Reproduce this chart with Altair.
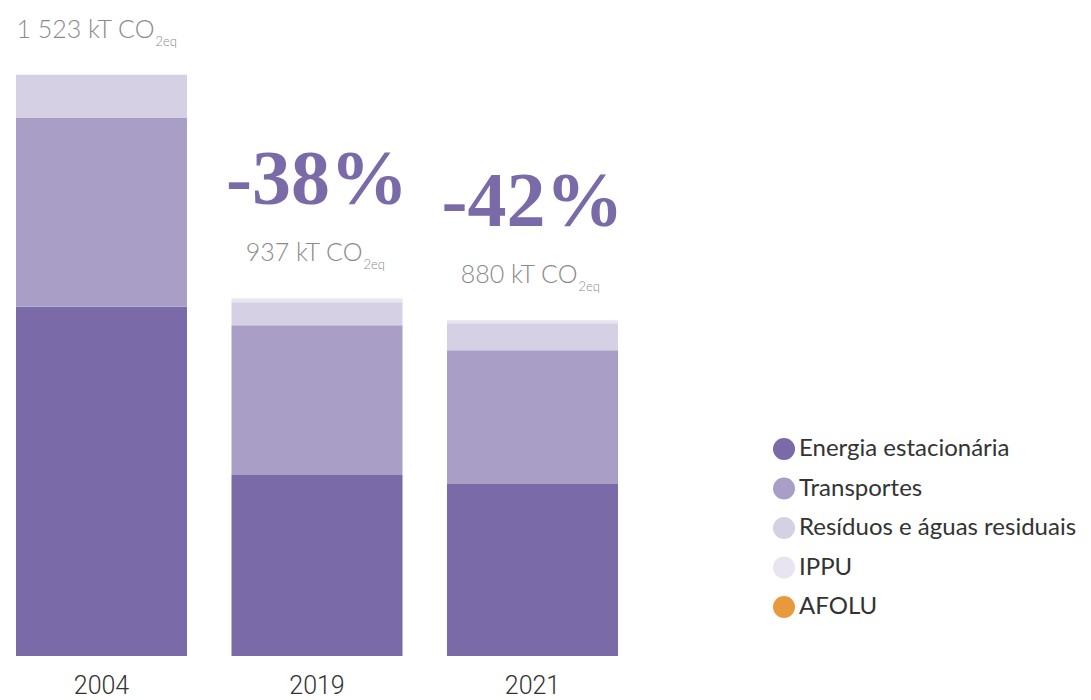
import altair as alt
import pandas as pd

years = ["2004", "2019", "2021"]
categories = ["Energia estacionária", "Transportes", "Resíduos e águas residuais", "IPPU", "AFOLU"]
colors = ["#7a6aa8", "#a99ec6", "#d5d0e4", "#e8e5f0", "#e8993b"]

energia = [915, 474, 451]
transportes = [495, 393, 350]
residuos = [113, 60, 71]
ippu = [0, 10, 8]
afolu = [0, 0, 0]

totals = [1523, 937, 880]
total_labels = ["1 523 kT CO", "937 kT CO", "880 kT CO"]
sub_label = "2eq"
reductions = ["", "-38%", "-42%"]

series = [energia, transportes, residuos, ippu, afolu]
rows = []
for ci, (cat, vals) in enumerate(zip(categories, series)):
    for yi, yr in enumerate(years):
        rows.append({"year": yr, "cat": cat, "idx": ci, "value": vals[yi]})
df = pd.DataFrame(rows)

tot_df = pd.DataFrame({"year": years, "total": totals, "label": total_labels,
                       "sub": [sub_label] * 3, "red": reductions})

xscale = alt.Scale(domain=years, paddingInner=0.2065, paddingOuter=0)
yscale = alt.Scale(domain=[0, 1698], nice=False, zero=True)

bars = alt.Chart(df).mark_bar().encode(
    x=alt.X("year:N", scale=xscale, sort=years,
            axis=alt.Axis(title=None, labelAngle=0, domain=False, ticks=False,
                          labelFontSize=25, labelColor="#333333",
                          labelFont="Liberation Sans Narrow, Roboto",
                          labelFontWeight=300,
                          labelPadding=17)),
    y=alt.Y("value:Q", scale=yscale, axis=None, stack="zero"),
    color=alt.Color("cat:N", scale=alt.Scale(domain=categories, range=colors),
                    legend=alt.Legend(title=None, orient="none", legendX=756, legendY=429,
                                      symbolType="circle", symbolSize=484,
                                      symbolStrokeWidth=0, labelFontSize=24,
                                      labelFont="Lato", labelColor="#333333",
                                      labelOffset=3, rowPadding=15.5, padding=0,
                                      labelLimit=400)),
    order=alt.Order("idx:Q", sort="ascending"),
)

# offsets (px) of the junction between main text and subscript, per bar
junction = {"2004": 53, "2019": 45.5, "2021": 45}

layers = [bars]
for yr in years:
    base = alt.Chart(tot_df).transform_filter(alt.datum.year == yr)
    main = base.mark_text(align="right", baseline="alphabetic", dx=junction[yr], dy=-37,
                          fontSize=25, font="Lato", fontWeight=300, color="#8a8a8a").encode(
        x=alt.X("year:N", scale=xscale, sort=years),
        y=alt.Y("total:Q", scale=yscale),
        text="label:N")
    sub = base.mark_text(align="left", baseline="alphabetic", dx=junction[yr] + 1, dy=-29,
                         fontSize=13, font="Lato", fontWeight=300, color="#8a8a8a").encode(
        x=alt.X("year:N", scale=xscale, sort=years),
        y=alt.Y("total:Q", scale=yscale),
        text="sub:N")
    layers += [main, sub]

pct = alt.Chart(tot_df).transform_filter(alt.datum.red != "").mark_text(
    align="center", baseline="alphabetic", dy=-94,
    fontSize=78, font="Liberation Serif", fontWeight="bold",
    color="#7a6aa8").encode(
    x=alt.X("year:N", scale=xscale, sort=years),
    y=alt.Y("total:Q", scale=yscale),
    text="red:N")
layers.append(pct)

chart = alt.layer(*layers).properties(
    width=602, height=648,
    padding={"left": 7, "top": 0, "right": 5, "bottom": 5},
).configure_view(stroke=None)

chart.save("out.html", embed_options={"renderer": "svg", "actions": False})
